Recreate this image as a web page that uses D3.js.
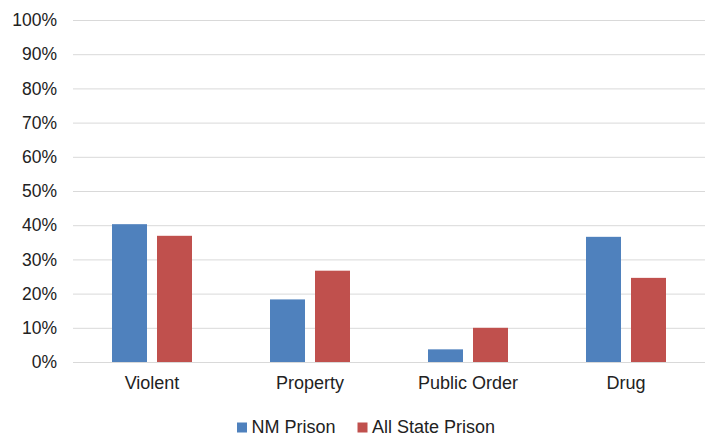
<!DOCTYPE html>
<html>
<head>
<meta charset="utf-8">
<script src="https://cdn.jsdelivr.net/npm/d3@7"></script>
<style>
  html, body { margin: 0; padding: 0; background: #fff; }
  svg { display: block; font-family: "Liberation Sans", Arial, sans-serif; }
</style>
</head>
<body>
<svg id="chart" width="706" height="438"></svg>
<script>
// Offense categories and percentage of prisoners in each
const categories = ["Violent", "Property", "Public Order", "Drug"];
const seriesNames = ["NM Prison", "All State Prison"];
const nmPrison = [40.3, 18.3, 3.7, 36.6];
const allStatePrison = [36.9, 26.7, 10.0, 24.6];
const yTicks = [0, 10, 20, 30, 40, 50, 60, 70, 80, 90, 100];
const colors = ["#4F81BD", "#C0504D"];

const seriesValues = [nmPrison, allStatePrison];
const rows = categories.map((c, i) => ({
  category: c,
  values: seriesNames.map((s, j) => ({ series: s, value: seriesValues[j][i], color: colors[j] }))
}));

const svg = d3.select("#chart");
const plot = { left: 73, right: 705, top: 20, bottom: 362 };

const y = d3.scaleLinear().domain([0, 100]).range([plot.bottom, plot.top]);
const x0 = d3.scaleBand().domain(categories).range([plot.left, plot.right]).paddingInner(0).paddingOuter(0);
const groupWidth = 80;
const x1 = d3.scaleBand().domain(seriesNames).range([0, groupWidth]).paddingInner(10 / 45).paddingOuter(0);
const groupOffset = (x0.bandwidth() - groupWidth) / 2;

// Horizontal gridlines with percentage labels
const yAxis = d3.axisLeft(y)
  .tickValues(yTicks)
  .tickFormat(d => d + "%")
  .tickSize(-(plot.right - plot.left))
  .tickPadding(16);

const gy = svg.append("g")
  .attr("transform", `translate(${plot.left},0)`)
  .call(yAxis);
gy.select(".domain").remove();
gy.selectAll(".tick line").attr("stroke", "#d9d9d9").attr("stroke-width", 1);
gy.selectAll(".tick text")
  .attr("fill", "#222")
  .style("font-size", "17.5px")
  .attr("font-family", "Liberation Sans, Arial, sans-serif");

// Grouped bars
const groups = svg.append("g").selectAll("g")
  .data(rows)
  .join("g")
  .attr("transform", d => `translate(${x0(d.category) + groupOffset},0)`);

groups.selectAll("rect")
  .data(d => d.values)
  .join("rect")
  .attr("x", d => x1(d.series))
  .attr("width", x1.bandwidth())
  .attr("y", d => y(d.value))
  .attr("height", d => y(0) - y(d.value))
  .attr("fill", d => d.color);

// Category labels along the bottom
const xAxis = d3.axisBottom(x0).tickSize(0).tickPadding(14);
const gx = svg.append("g")
  .attr("transform", `translate(0,${plot.bottom})`)
  .call(xAxis);
gx.select(".domain").remove();
gx.selectAll(".tick text")
  .attr("fill", "#222")
  .style("font-size", "18px")
  .attr("font-family", "Liberation Sans, Arial, sans-serif");

// Legend
const legendItems = [
  { name: seriesNames[0], color: colors[0], x: 237 },
  { name: seriesNames[1], color: colors[1], x: 357.5 }
];
const legend = svg.append("g");
const li = legend.selectAll("g").data(legendItems).join("g")
  .attr("transform", d => `translate(${d.x},422.5)`);
li.append("rect").attr("width", 10).attr("height", 10).attr("fill", d => d.color);
li.append("text")
  .attr("x", 14.5)
  .attr("y", 10)
  .attr("fill", "#222")
  .style("font-size", "18px")
  .text(d => d.name);
</script>
</body>
</html>
